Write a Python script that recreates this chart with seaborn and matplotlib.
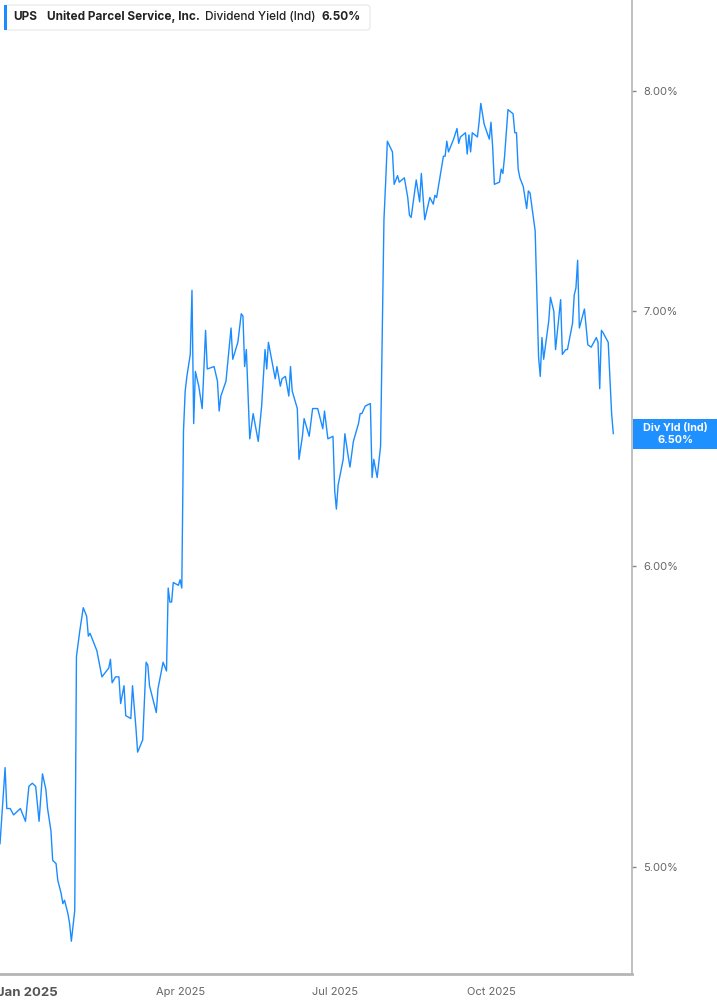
import numpy as np
import pandas as pd
import matplotlib
matplotlib.use("Agg")
import matplotlib.pyplot as plt
from matplotlib.patches import FancyBboxPatch, Rectangle
from matplotlib.ticker import FixedLocator, NullLocator
import seaborn as sns

# Dividend yield (%), vertices of the line
dates = [
    "2024-12-16", "2024-12-19", "2024-12-20", "2024-12-22", "2024-12-24", "2024-12-28", "2024-12-31",
    "2025-01-02", "2025-01-04", "2025-01-06", "2025-01-08", "2025-01-10", "2025-01-12", "2025-01-13",
    "2025-01-15", "2025-01-16", "2025-01-18", "2025-01-19", "2025-01-21", "2025-01-22", "2025-01-23",
    "2025-01-25", "2025-01-26", "2025-01-27", "2025-01-29", "2025-01-30", "2025-02-01", "2025-02-03",
    "2025-02-05", "2025-02-06", "2025-02-07", "2025-02-11", "2025-02-14", "2025-02-18", "2025-02-19",
    "2025-02-20", "2025-02-22", "2025-02-24", "2025-02-25", "2025-02-27", "2025-02-28", "2025-03-03",
    "2025-03-04", "2025-03-06", "2025-03-07", "2025-03-10", "2025-03-12", "2025-03-13", "2025-03-14",
    "2025-03-18", "2025-03-19", "2025-03-22", "2025-03-24", "2025-03-25", "2025-03-26", "2025-03-27",
    "2025-03-28", "2025-03-31", "2025-04-01", "2025-04-02", "2025-04-03", "2025-04-04", "2025-04-05",
    "2025-04-07", "2025-04-08", "2025-04-09", "2025-04-10", "2025-04-12", "2025-04-14", "2025-04-16",
    "2025-04-17", "2025-04-21", "2025-04-23", "2025-04-24", "2025-04-25", "2025-04-28", "2025-05-01",
    "2025-05-02", "2025-05-05", "2025-05-07", "2025-05-08", "2025-05-09", "2025-05-10", "2025-05-12",
    "2025-05-14", "2025-05-17", "2025-05-19", "2025-05-21", "2025-05-22", "2025-05-23", "2025-05-27",
    "2025-05-28", "2025-05-30", "2025-05-31", "2025-06-02", "2025-06-04", "2025-06-05", "2025-06-06",
    "2025-06-09", "2025-06-10", "2025-06-12", "2025-06-13", "2025-06-16", "2025-06-18", "2025-06-21",
    "2025-06-24", "2025-06-25", "2025-06-27", "2025-06-30", "2025-07-01", "2025-07-02", "2025-07-03",
    "2025-07-06", "2025-07-07", "2025-07-09", "2025-07-10", "2025-07-12", "2025-07-15", "2025-07-16",
    "2025-07-17", "2025-07-19", "2025-07-22", "2025-07-23", "2025-07-24", "2025-07-26", "2025-07-28",
    "2025-07-30", "2025-07-31", "2025-08-01", "2025-08-04", "2025-08-05", "2025-08-07", "2025-08-08",
    "2025-08-11", "2025-08-13", "2025-08-14", "2025-08-15", "2025-08-18", "2025-08-20", "2025-08-21",
    "2025-08-23", "2025-08-26", "2025-08-28", "2025-08-29", "2025-08-30", "2025-09-03", "2025-09-04",
    "2025-09-05", "2025-09-06", "2025-09-09", "2025-09-11", "2025-09-12", "2025-09-13", "2025-09-16",
    "2025-09-17", "2025-09-18", "2025-09-19", "2025-09-20", "2025-09-23", "2025-09-24", "2025-09-25",
    "2025-09-27", "2025-09-30", "2025-10-01", "2025-10-02", "2025-10-03", "2025-10-06", "2025-10-07",
    "2025-10-08", "2025-10-09", "2025-10-11", "2025-10-14", "2025-10-15", "2025-10-16", "2025-10-17",
    "2025-10-18", "2025-10-20", "2025-10-22", "2025-10-23", "2025-10-24", "2025-10-27", "2025-10-29",
    "2025-10-30", "2025-10-31", "2025-11-01", "2025-11-04", "2025-11-05", "2025-11-07", "2025-11-08",
    "2025-11-11", "2025-11-12", "2025-11-14", "2025-11-15", "2025-11-18", "2025-11-19", "2025-11-20",
    "2025-11-21", "2025-11-22", "2025-11-25", "2025-11-27", "2025-11-29", "2025-12-02", "2025-12-03",
    "2025-12-04", "2025-12-05", "2025-12-06", "2025-12-09", "2025-12-11", "2025-12-12",
]
div_yield = [
    5.07, 5.31, 5.18, 5.18, 5.16, 5.18, 5.14,
    5.25, 5.26, 5.25, 5.14, 5.29, 5.24, 5.18,
    5.11, 5.02, 5.01, 4.96, 4.92, 4.89, 4.90,
    4.86, 4.83, 4.78, 4.87, 5.68, 5.77, 5.85,
    5.82, 5.75, 5.76, 5.70, 5.61, 5.64, 5.67,
    5.59, 5.61, 5.61, 5.52, 5.58, 5.48, 5.47,
    5.58, 5.44, 5.36, 5.40, 5.66, 5.65, 5.58,
    5.49, 5.57, 5.66, 5.63, 5.92, 5.87, 5.87,
    5.94, 5.93, 5.95, 5.92, 6.51, 6.67, 6.73,
    6.82, 7.09, 6.54, 6.75, 6.69, 6.60, 6.92,
    6.76, 6.77, 6.71, 6.59, 6.65, 6.71, 6.93,
    6.80, 6.87, 6.99, 6.98, 6.77, 6.84, 6.48,
    6.58, 6.47, 6.61, 6.84, 6.76, 6.87, 6.72,
    6.77, 6.69, 6.72, 6.73, 6.65, 6.77, 6.67,
    6.60, 6.40, 6.49, 6.56, 6.49, 6.60, 6.60,
    6.52, 6.59, 6.48, 6.49, 6.28, 6.21, 6.30,
    6.40, 6.50, 6.41, 6.37, 6.47, 6.54, 6.58,
    6.58, 6.61, 6.62, 6.33, 6.40, 6.33, 6.45,
    7.40, 7.57, 7.76, 7.71, 7.56, 7.60, 7.57,
    7.59, 7.50, 7.42, 7.41, 7.58, 7.48, 7.61,
    7.40, 7.50, 7.47, 7.51, 7.50, 7.69, 7.69,
    7.76, 7.71, 7.77, 7.82, 7.75, 7.78, 7.80,
    7.70, 7.79, 7.71, 7.80, 7.78, 7.85, 7.94,
    7.84, 7.77, 7.85, 7.73, 7.56, 7.57, 7.63,
    7.61, 7.69, 7.91, 7.89, 7.80, 7.80, 7.63,
    7.59, 7.55, 7.45, 7.53, 7.52, 7.35, 6.81,
    6.73, 6.89, 6.80, 6.96, 7.06, 7.00, 6.84,
    7.05, 6.82, 6.84, 6.84, 6.95, 7.07, 7.10,
    7.22, 6.93, 7.01, 6.86, 6.85, 6.89, 6.87,
    6.68, 6.92, 6.91, 6.87, 6.58, 6.50,
]

y_ticks = [5.0, 6.0, 7.0, 8.0]
x_ticks = ["2025-01-01", "2025-04-01", "2025-07-01", "2025-10-01"]
x_tick_labels = ["Jan 2025", "Apr 2025", "Jul 2025", "Oct 2025"]

df = pd.DataFrame({"Date": pd.to_datetime(dates), "Yield": div_yield})

line_color = "#1a8cff"
grey = "#666666"

sns.set_style("white")
plt.rcParams["font.family"] = ["Inter", "DejaVu Sans"]

fig = plt.figure(figsize=(7.17, 10.05), dpi=100)
ax = fig.add_axes([0.0, 1 - 974 / 1005, 632 / 717, 974 / 1005])

sns.lineplot(data=df, x="Date", y="Yield", ax=ax, color=line_color, linewidth=1.0)

ax.set_yscale("log")
ax.set_ylim(4.686, 8.453)
ax.set_xlim(pd.Timestamp("2024-12-16"), pd.Timestamp("2025-12-23"))

ax.yaxis.tick_right()
ax.yaxis.set_major_locator(FixedLocator(y_ticks))
ax.yaxis.set_minor_locator(NullLocator())
ax.set_yticklabels([f"{v:.2f}%" for v in y_ticks])
ax.tick_params(axis="y", which="major", direction="out", length=3, width=1,
               color="#888888", labelcolor=grey, labelsize=8, pad=5)

ax.set_xticks(pd.to_datetime(x_ticks))
ax.set_xticklabels(x_tick_labels)
ax.tick_params(axis="x", direction="out", length=4, width=1, color="#aaaaaa",
               labelcolor=grey, labelsize=8, pad=5)
first = ax.get_xticklabels()[0]
first.set_fontweight("bold")
first.set_fontsize(9.5)
first.set_color("#555555")

ax.set_xlabel("")
ax.set_ylabel("")
for side in ["left", "top"]:
    ax.spines[side].set_visible(False)
ax.spines["right"].set_color("#b5b5b5")
ax.spines["right"].set_linewidth(1.2)
ax.spines["bottom"].set_color("#b5b5b5")
ax.spines["bottom"].set_linewidth(2.0)

# header box
W, H = 717, 1005
hdr = FancyBboxPatch((5 / W, 1 - 30 / H), 365 / W, 25 / H,
                     boxstyle="round,pad=0,rounding_size=0.004",
                     transform=fig.transFigure, facecolor="white",
                     edgecolor="#e6e6e6", linewidth=0.8, zorder=5)
fig.patches.append(hdr)
fig.patches.append(Rectangle((4 / W, 1 - 30 / H), 2.5 / W, 25 / H,
                             transform=fig.transFigure, facecolor=line_color,
                             edgecolor="none", zorder=6))
hy = 1 - 16.5 / H
hdr_kw = dict(fontsize=8.5, color="#222222", va="center", zorder=8)
fig.text(13 / W, hy, "UPS", fontweight="bold", **hdr_kw)
fig.text(47 / W, hy, "United Parcel Service, Inc.", fontweight="bold", **hdr_kw)
fig.text(205 / W, hy, "Dividend Yield (Ind)", fontweight="medium", **hdr_kw)
fig.text(322 / W, hy, "6.50%", fontweight="bold", **hdr_kw)

# last value label on the right axis
fig.patches.append(Rectangle((633 / W, 1 - 449 / H), 84 / W, 30 / H,
                             transform=fig.transFigure, facecolor="#1e90ff",
                             edgecolor="none", zorder=6))
lbl_kw = dict(fontsize=7.8, fontweight="bold", color="white", ha="center",
              va="center", zorder=8)
fig.text(675 / W, 1 - 428 / H, "Div Yld (Ind)", **lbl_kw)
fig.text(675 / W, 1 - 440 / H, f"{div_yield[-1]:.2f}%", **lbl_kw)

fig.savefig("out.png", dpi=100)
